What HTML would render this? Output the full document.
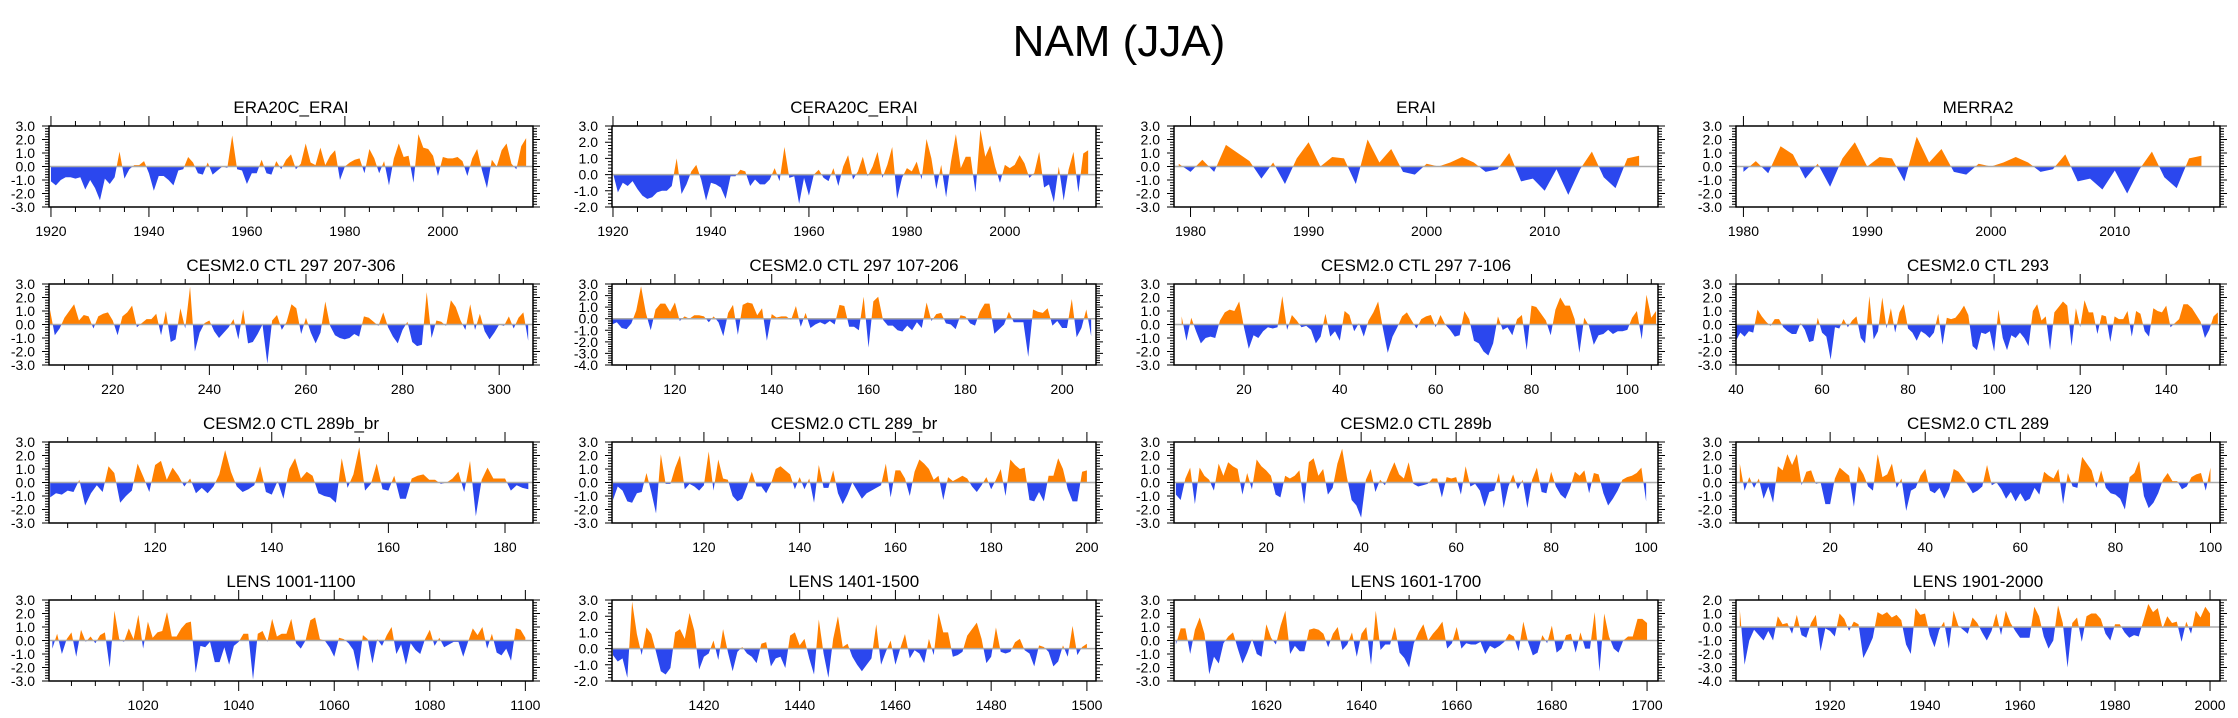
<!DOCTYPE html>
<html><head><meta charset="utf-8"><style>
html,body{margin:0;padding:0;background:#fff;}
svg{display:block;font-family:"Liberation Sans",sans-serif;}
</style></head><body>
<svg id="chart" width="2238" height="718" viewBox="0 0 2238 718" xmlns="http://www.w3.org/2000/svg">
<text x="1119" y="56" font-size="44" text-anchor="middle" fill="#000">NAM (JJA)</text>
</svg>
<script>
// ---- data arrays ----
const d1 = [-1.1,-1.4,-1.0,-0.8,-0.8,-0.9,-0.8,-1.7,-1.0,-1.6,-2.5,-0.9,-1.3,-0.8,1.1,-0.9,-0.2,0.1,0.1,0.4,-0.5,-1.8,-0.7,-0.7,-1.0,-1.4,-0.3,-0.2,0.7,0.3,-0.5,-0.6,0.3,-0.6,-0.3,0.0,-0.1,2.3,-0.2,-0.3,-1.3,-0.5,-0.5,0.5,-0.5,-0.6,0.4,-0.2,0.5,0.9,-0.2,0.2,1.7,0.3,0.1,1.4,0.1,0.8,1.2,-1.0,0.0,0.3,0.5,0.6,-0.5,1.3,0.6,-0.5,0.4,-1.4,0.6,1.7,0.7,0.8,-1.2,2.4,1.4,1.3,0.8,-0.7,0.7,0.6,0.6,0.7,0.4,-0.7,0.6,1.3,-0.3,-1.6,0.5,0.0,1.2,1.7,0.2,-0.2,1.5,2.1];
const d2 = [0.1,-1.1,-0.5,-0.7,-0.4,-0.9,-1.3,-1.5,-1.4,-1.1,-1.0,-1.0,-0.7,1.0,-1.2,-0.6,0.2,0.6,-0.3,-1.6,-0.5,-0.6,-0.8,-1.5,-0.1,-0.1,0.3,0.2,-0.7,-0.3,-0.6,-0.6,-0.3,0.4,-0.4,1.7,-0.2,-0.1,-1.8,-0.2,-1.3,0.0,0.3,-0.2,-0.4,0.4,-0.7,0.5,1.2,-0.3,0.2,1.1,-0.1,0.5,1.4,-0.2,0.6,1.7,-1.5,-0.2,0.4,0.2,0.8,-0.3,2.2,1.0,-0.9,0.6,-1.4,0.8,2.5,0.4,1.1,1.1,-1.1,2.8,1.1,1.8,0.5,-0.5,0.6,0.4,0.6,1.2,0.7,-0.2,0.1,1.4,-0.8,-0.6,-1.7,0.5,-1.6,0.3,1.4,-1.1,1.3,1.5];
const d3 = [0.2,-0.4,0.5,-0.4,1.6,1.0,0.4,-0.9,0.3,-1.3,0.6,1.8,0.0,0.7,0.6,-1.3,2.0,0.3,1.3,-0.4,-0.6,0.2,0.0,0.3,0.7,0.3,-0.4,-0.2,1.0,-1.1,-0.9,-1.8,-0.2,-2.1,-0.2,1.1,-0.8,-1.6,0.6,0.8];
const d4 = [-0.4,0.4,-0.5,1.5,0.9,-0.9,0.2,-1.5,0.6,1.8,0.0,0.7,0.6,-1.1,2.2,0.3,1.3,-0.4,-0.6,0.2,0.0,0.3,0.7,0.3,-0.4,-0.2,0.9,-1.1,-0.9,-1.7,-0.3,-2.0,-0.2,1.1,-0.8,-1.6,0.6,0.8];
const d5 = [1.1,-0.8,-0.3,0.5,1.0,1.5,0.3,0.7,0.6,-0.3,0.6,0.8,0.9,0.3,-0.8,0.6,0.9,1.4,-0.2,0.1,0.4,0.4,0.8,-0.8,1.0,-1.3,-1.1,1.2,-0.3,2.8,-2.0,-0.6,0.1,0.3,-0.5,-1.0,-0.6,-0.2,0.4,-1.1,1.1,-1.4,-1.3,-0.7,0.0,-2.9,0.3,0.7,-0.4,0.2,1.5,1.2,-0.7,0.5,-0.6,-1.4,-0.6,1.7,-0.1,-0.8,-1.0,-1.1,-1.0,-0.7,-0.9,0.6,0.5,0.2,-0.1,0.9,-0.2,-0.9,-1.4,-0.4,0.2,-1.3,-1.6,-1.5,2.4,-1.0,0.3,0.2,-0.1,1.8,1.3,0.3,-0.4,1.5,-0.4,0.8,-0.5,-1.1,-0.6,0.0,-0.1,0.6,-0.3,0.5,0.9,-1.2];
const d6 = [-0.5,-0.3,-0.8,-0.9,-0.4,0.7,2.8,0.5,-1.0,0.8,1.3,1.3,0.6,1.4,-0.2,0.2,0.0,0.3,0.3,0.2,-0.3,0.2,-0.3,-1.5,0.5,1.2,-1.4,1.2,1.4,1.3,0.3,0.9,-1.9,0.4,0.1,0.2,0.2,-0.1,1.1,-0.7,0.5,-0.8,-0.5,-0.3,-0.5,-0.2,-0.5,1.2,1.1,-0.7,-0.7,-1.0,1.9,-2.5,1.5,1.9,-0.1,-0.6,-0.6,-1.0,-1.1,-0.6,-1.0,-0.3,-0.8,1.4,-0.2,0.4,0.5,-0.4,-0.5,-0.9,0.3,0.2,-0.4,-0.6,0.6,1.3,1.3,-1.3,-0.9,-0.5,0.6,-0.3,-0.3,-0.3,-3.3,0.8,0.6,0.5,0.9,-0.6,-0.2,-0.8,-0.8,1.7,-1.6,-0.8,0.8,-1.5];
const d7 = [0.6,-1.2,0.5,-0.5,-1.4,-1.0,-0.9,-1.0,0.3,0.9,1.1,1.0,1.7,-0.2,-1.8,-0.8,-1.0,-0.5,-0.2,-0.3,-0.2,2.1,-0.4,0.7,0.3,-0.2,-0.1,-0.4,-1.4,-0.9,0.8,-0.9,-0.5,-1.2,1.0,0.7,-0.5,0.1,-0.9,0.3,0.9,1.7,-0.3,-2.1,-0.9,-0.2,0.6,0.9,0.3,-0.3,0.4,0.6,0.7,-0.2,0.7,0.0,-0.4,-0.9,-0.8,1.0,0.4,-1.2,-1.4,-2.0,-2.3,-1.4,0.6,-0.4,-0.2,-0.8,0.4,0.7,-1.9,1.4,1.3,0.8,0.3,-0.8,1.1,2.0,1.4,1.4,0.4,-2.1,0.5,-0.1,-1.5,-0.8,-0.7,-0.4,-0.7,-0.5,-0.5,-0.4,0.5,1.0,-1.1,2.2,0.5,1.0];
const d8 = [-1.2,-0.6,-0.9,-0.5,-0.6,1.1,0.6,0.2,-0.1,0.4,0.4,-0.2,-0.5,-0.7,-0.7,0.1,-0.4,-1.3,-1.2,0.5,-0.6,-0.9,-2.6,-0.2,-0.3,0.4,-0.2,0.3,0.6,-1.0,-1.4,2.1,-1.1,-0.5,2.0,-0.3,1.2,-0.6,0.9,1.5,-0.3,-0.6,-1.2,-0.5,-0.7,-1.0,-0.6,0.8,-1.5,0.5,0.4,0.5,0.9,1.4,0.7,-1.6,-1.9,-0.6,-0.7,-0.5,-2.0,1.1,-1.0,-1.9,-0.8,-1.0,-0.6,-1.0,-1.6,1.0,1.5,0.3,0.6,-1.9,0.9,1.3,1.7,1.4,-1.6,1.2,-0.2,1.8,0.9,0.9,-0.7,0.7,0.6,-1.3,0.6,0.4,0.4,1.0,-0.9,1.0,0.8,-0.5,-0.9,1.2,1.0,0.9,1.4,-0.2,0.1,0.4,1.5,1.5,1.2,0.7,0.2,-1.0,-0.4,0.6,0.9];
const d9 = [-1.1,-0.8,-0.9,-0.6,-0.7,0.2,-1.7,-0.8,-0.2,-0.7,1.2,0.7,-1.5,-1.0,-0.6,1.4,0.4,-0.7,1.3,1.6,0.2,1.1,0.5,-0.3,0.3,-0.8,-0.4,-0.8,-0.3,0.6,2.4,0.8,-0.3,-0.7,-0.5,-0.2,1.2,-0.7,-0.9,0.1,-1.2,1.0,1.8,0.3,0.8,0.5,-0.8,-1.0,-1.1,-1.5,1.8,-0.4,0.6,2.6,-0.6,-0.1,1.4,-0.5,-0.6,0.5,-1.2,-1.2,0.3,0.5,0.6,0.2,0.2,-0.1,0.0,0.3,0.8,-0.7,1.6,-2.5,0.2,1.1,0.3,0.3,0.3,-0.6,-0.2,-0.4,-0.5];
const d10 = [-1.3,-0.3,-0.6,-1.4,-1.5,-0.8,-0.7,0.7,-0.7,-2.3,2.1,-0.1,-0.1,1.1,2.0,-0.5,-0.1,-0.3,-0.6,-0.2,2.3,-0.6,1.7,0.3,0.2,-1.0,-1.4,-1.2,-0.3,0.8,-0.3,-0.3,-0.8,-0.1,1.0,1.2,0.9,0.6,-0.5,0.4,-0.5,0.3,-1.5,1.3,-0.4,-0.4,0.9,-0.8,-1.6,-0.9,0.0,-0.6,-1.2,-0.8,-0.6,-0.4,-0.2,1.4,-1.1,0.9,0.9,0.3,-1.0,0.8,1.7,1.4,1.0,0.2,0.5,-1.3,0.4,0.1,0.3,0.5,0.3,-0.3,-0.7,-0.2,0.4,-0.5,0.2,1.0,-1.0,1.7,1.3,1.0,1.1,-1.3,-1.4,-0.7,-1.4,0.5,0.5,1.8,1.0,-0.5,-1.4,-1.4,0.8,0.9];
const d11 = [-0.9,-1.3,0.3,1.1,-1.6,1.1,0.5,0.2,-0.6,1.4,0.5,1.5,1.2,1.0,-0.9,0.7,-0.5,1.7,1.2,0.9,0.5,-0.9,-1.1,0.5,0.3,0.5,0.9,-1.6,1.5,1.8,0.5,1.0,-0.9,-0.4,1.4,2.5,0.4,-1.3,-1.7,-2.6,0.2,1.0,-0.7,0.2,-0.2,0.7,1.5,0.6,0.3,1.5,-0.1,-0.3,-0.2,-0.1,0.3,0.3,-1.1,0.4,0.3,0.4,-0.9,1.2,-0.3,-0.1,-0.6,-1.8,-0.7,-0.6,0.7,-1.9,-0.3,0.6,-0.5,0.2,-1.9,0.2,1.1,-0.7,-0.8,0.8,-0.3,-0.9,-1.2,-0.4,0.8,0.5,0.9,-0.8,0.7,0.6,-0.8,-1.7,-1.2,-0.6,0.2,0.4,0.5,0.7,1.1,-1.4];
const d12 = [1.4,-0.6,0.4,-0.4,0.3,-1.2,-0.3,-1.5,1.2,0.9,2.1,1.3,2.1,-0.2,0.8,0.9,-0.1,0.0,-1.6,-1.6,0.3,1.1,0.8,0.5,-1.8,1.2,0.6,-0.3,-0.6,2.1,0.4,0.6,1.4,-0.4,0.3,-2.1,-0.6,-0.4,0.5,1.0,-0.6,-0.8,-0.4,-1.2,-0.5,1.0,0.8,0.3,-0.2,-0.8,-0.6,-0.3,1.3,-0.2,0.0,-0.5,-1.2,-0.7,-1.4,-0.8,-1.4,-1.2,-0.4,-0.9,0.8,0.5,0.3,1.0,-1.6,0.7,-0.3,-0.4,1.9,1.4,0.9,-0.4,0.9,-0.4,-0.8,-0.9,-1.2,-2.0,0.4,0.7,1.6,-1.0,-1.9,-1.5,-0.8,0.2,0.7,0.1,0.1,-0.5,-0.3,0.4,0.6,0.7,-0.6,1.1];
const d13 = [-0.6,0.5,-1.0,0.1,0.6,-1.2,0.8,-0.1,0.3,-0.2,0.4,0.6,-2.0,2.2,0.1,-0.1,0.9,0.1,1.9,-0.6,1.4,0.2,0.6,0.7,2.1,0.3,0.3,0.9,1.3,1.4,-2.4,-0.4,-0.5,-0.1,-1.6,-1.6,-0.5,-1.8,-0.4,-0.1,0.5,0.5,-2.9,0.5,0.7,-0.1,1.6,0.3,0.5,0.5,1.6,-0.2,-0.6,0.0,1.5,1.7,0.1,0.0,-0.5,-1.2,0.2,0.1,-0.2,-0.7,-2.3,0.4,0.1,-1.7,0.1,-0.4,0.4,1.0,-1.0,-0.3,-1.8,-0.2,-0.7,-1.0,0.1,0.8,-0.4,0.2,-0.5,-0.3,-0.1,-0.1,-1.2,-0.1,0.9,0.4,1.0,-0.6,0.5,-0.9,-1.1,-0.6,-1.5,0.9,0.8,0.2];
const d14 = [-0.4,-0.8,-0.6,-1.8,2.9,0.9,-0.4,1.3,0.9,-0.2,-1.4,-1.6,-1.2,1.0,1.2,0.6,2.2,1.1,-1.3,-0.5,-0.3,0.5,-0.7,1.2,-0.2,-1.4,-0.2,0.1,-0.3,-0.5,-0.9,0.3,0.4,-1.1,-0.6,-0.5,-1.2,0.8,1.0,0.2,0.6,-0.6,-1.6,1.8,-0.3,-1.8,0.6,2.0,0.1,0.3,-0.5,-1.0,-1.4,-1.0,-0.6,1.5,-1.0,-0.2,0.5,-1.0,0.0,0.9,-0.6,-0.1,-0.3,-0.9,0.6,-0.4,2.2,1.0,1.0,-0.5,-0.4,-0.2,0.8,1.2,1.6,0.6,-0.9,-0.5,1.3,-0.2,-0.3,-0.2,0.4,0.6,-0.1,-0.3,-1.1,0.2,0.1,-0.2,-1.1,-0.8,0.2,-0.5,1.4,-0.4,0.1,0.3];
const d15 = [-0.3,0.9,0.9,-1.0,0.8,1.7,0.5,-2.5,-1.2,-1.7,-0.2,0.3,0.6,-0.6,-1.7,-0.9,0.1,-1.0,-1.2,1.2,0.2,-0.3,1.1,2.2,-1.0,-0.4,-0.8,-0.8,0.8,0.9,0.8,0.5,-0.5,0.5,1.0,-0.7,-0.3,0.6,-1.2,0.5,1.0,-1.8,2.2,-0.7,-0.3,-0.3,1.0,-0.9,-1.3,-2.0,-0.2,0.6,1.2,0.0,0.5,0.9,1.4,-0.6,-0.2,1.0,-0.6,-0.2,-0.3,-0.3,-0.1,-1.0,-0.4,-0.6,-0.4,-0.1,0.5,0.3,-0.8,1.4,-0.1,-1.1,-0.9,0.4,-0.2,1.1,-0.9,-0.6,0.4,0.5,-0.9,0.6,-0.6,-0.6,2.1,-2.3,2.0,0.3,-0.6,-0.9,0.0,0.3,0.3,1.6,1.6,1.3];
const d16 = [1.3,-2.8,-1.0,-0.2,-0.6,-1.0,-0.3,-1.0,0.8,0.2,0.3,-0.5,0.9,-0.6,-0.8,0.3,0.9,-1.8,-0.1,-0.3,-0.7,1.0,0.6,-0.3,0.4,0.2,-2.3,-1.6,-0.8,1.1,0.9,1.1,0.7,0.9,0.5,-1.3,-2.0,1.4,0.9,1.0,-0.6,-1.5,-0.2,0.4,-1.6,1.2,0.1,-0.2,-0.5,0.7,0.3,-0.4,-1.0,-0.3,1.0,-0.6,1.2,0.3,-0.3,-0.8,-0.8,-0.8,1.5,0.8,-0.7,-1.6,-1.0,1.6,0.3,-3.0,0.3,0.7,-1.1,0.8,1.0,1.0,0.6,-0.5,-1.0,0.2,0.2,-0.4,-0.8,-0.6,-0.7,0.5,1.7,1.1,1.4,-0.1,0.8,0.3,0.4,-1.1,0.4,-0.5,1.2,0.7,1.5,1.0];

const titles = ["ERA20C_ERAI","CERA20C_ERAI","ERAI","MERRA2",
 "CESM2.0 CTL 297 207-306","CESM2.0 CTL 297 107-206","CESM2.0 CTL 297 7-106","CESM2.0 CTL 293",
 "CESM2.0 CTL 289b_br","CESM2.0 CTL 289_br","CESM2.0 CTL 289b","CESM2.0 CTL 289",
 "LENS 1001-1100","LENS 1401-1500","LENS 1601-1700","LENS 1901-2000"];
const seriesList = [d1,d2,d3,d4,d5,d6,d7,d8,d9,d10,d11,d12,d13,d14,d15,d16];
const startYears = [1920,1920,1979,1980,207,107,7,40,102,101,1,1,1001,1401,1601,1901];
const xDomains = [[1919.6,2018.4],[1919.8,2018.6],[1978.6,2019.6],[1979.4,2018.5],
 [206.8,307],[107,207],[5.4,106.4],[40,152.5],
 [101.8,184.8],[100.8,201.9],[0.6,102.5],[0.2,102],
 [1000.3,1101.6],[1400.8,1501.9],[1600.6,1702.3],[1900.2,2002.1]];
const yDomains = [[-3,3],[-2,3],[-3,3],[-3,3],[-3,3],[-4,3],[-3,3],[-3,3],
 [-3,3],[-3,3],[-3,3],[-3,3],[-3,3],[-2,3],[-3,3],[-4,2]];
const xMajor = [20,20,10,10,20,20,20,20,20,20,20,20,20,20,20,20];
const xMinor = [5,5,2,2,5,5,5,10,5,5,5,5,5,5,5,5];

const NS = "http://www.w3.org/2000/svg";
const svg = document.getElementById("chart");
const colLeft = [49,612,1174,1736], rowTop = [126,284,442,600];
const W = 484, H = 81;
function mk(tag, attrs, parent){
  const e = document.createElementNS(NS, tag);
  for (const k in attrs) e.setAttribute(k, attrs[k]);
  parent.appendChild(e); return e;
}
seriesList.forEach((vals, p) => {
  const r = Math.floor(p/4), c = p%4;
  const L = colLeft[c], T = rowTop[r];
  const [x0,x1] = xDomains[p], [y0,y1] = yDomains[p];
  const sx = v => L + (v - x0) / (x1 - x0) * W;
  const sy = v => T + H - (v - y0) / (y1 - y0) * H;
  const g = mk("g", {}, svg);
  
  
  const t = mk("text", {x: L + W/2, y: T - 13, "font-size": 17, "text-anchor": "middle", fill: "#000"}, g);
  t.textContent = titles[p];
  
  
  const pts = vals.map((v,i) => [startYears[p] + i, v]);
  let pos = [[pts[0][0],0]], neg = [[pts[0][0],0]];
  for (let i=0;i<pts.length;i++){
    const [x,v] = pts[i];
    if (i>0){
      const [xp,vp] = pts[i-1];
      if ((vp>0 && v<0) || (vp<0 && v>0)){
        const xc = xp + (x-xp) * vp/(vp - v);
        pos.push([xc,0]); neg.push([xc,0]);
      }
    }
    pos.push([x, Math.max(v,0)]); neg.push([x, Math.min(v,0)]);
  }
  const last = pts[pts.length-1][0];
  pos.push([last,0]); neg.push([last,0]);
  const toPts = a => a.map(q => sx(q[0]).toFixed(2)+","+sy(q[1]).toFixed(2)).join(" ");
  const pf = mk("polygon", {points: toPts(pos), fill: "#ff8000"}, g);
  
  
  const nf = mk("polygon", {points: toPts(neg), fill: "#2b47ee"}, g);
  
  
  const zl = mk("line", {x1: L, x2: L+W, y1: sy(0), y2: sy(0), stroke: "#aaa", "stroke-width": 1.5}, g);
  
  
  const box = mk("rect", {x: L, y: T, width: W, height: H, fill: "none", stroke: "#000", "stroke-width": 1.5}, g);
  
  
  let d = "";
  for (let k = Math.round(y0*5); k <= Math.round(y1*5); k++){
    const yy = sy(k/5), major = (k % 5 === 0), len = major ? 7 : 4;
    d += `M${L} ${yy}h${-len}M${L+W} ${yy}h${len}`;
    if (major){
      const yl = mk("text", {x: L - 14, y: yy + 5, "font-size": 14, "text-anchor": "end", fill: "#000"}, g);
      yl.textContent = (k/5).toFixed(1);
      
      
    }
  }
  const mi = xMinor[p], ma = xMajor[p];
  for (let v = Math.ceil(x0/mi)*mi; v <= x1; v += mi){
    const xx = sx(v), major = (v % ma === 0), len = major ? 10 : 5;
    d += `M${xx} ${T}v${-len}M${xx} ${T+H}v${len}`;
    if (major){
      const xl = mk("text", {x: xx, y: T + H + 29, "font-size": 14, "text-anchor": "middle", fill: "#000"}, g);
      xl.textContent = v;
      
      
    }
  }
  const tk = mk("path", {d: d, stroke: "#000", "stroke-width": 1, fill: "none"}, g);
  
  
});
</script>
</body></html>
